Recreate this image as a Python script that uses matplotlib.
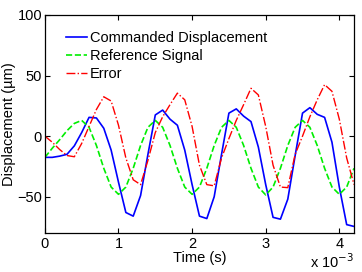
import numpy as np
import matplotlib
matplotlib.use("Agg")
import matplotlib.pyplot as plt
from matplotlib.ticker import FuncFormatter

plt.rcParams.update({
    "font.family": ["Liberation Sans", "DejaVu Sans"],
    "font.size": 10.5,
    "xtick.direction": "in", "ytick.direction": "in",
    "xtick.top": True, "ytick.right": True,
    "xtick.major.size": 3.5, "ytick.major.size": 3.5,
    "axes.linewidth": 0.9,
})

# sample times (s), 0.1 ms grid
time_s = np.linspace(0, 4.2e-3, 43)

commanded = [-17.5, -17.5, -16.5, -15, -8, 3, 15.5, 15, 6.5, -11.5,
             -38, -63, -66, -49, -15, 17.5, 21.5, 14, 9, -11.5,
             -40, -66, -68, -50, -15, 19, 22.5, 16.5, 12, -9,
             -40, -67, -68.5, -52, -16, 19, 23.5, 18, 15.5, -5,
             -42, -73, -74.5]
reference = [-17.5, -10, -3, 4.5, 10.5, 13, 7.3, -7.7, -26.5, -42,
             -48, -42, -26.5, -7.7, 7.3, 13, 7.3, -7.7, -26.5, -42,
             -48, -42, -26.5, -7.7, 7.3, 13, 7.3, -7.7, -26.5, -42,
             -48.5, -42, -26.5, -7.7, 7.3, 13, 7.3, -7.7, -26.5, -42,
             -48, -42, -26.5]
error = [0, -5, -11, -16, -17, -6, 8, 22, 32.5, 29,
         9, -18, -36, -40, -20, 3, 16, 26, 35.5, 30,
         8, -24, -40, -41, -18, -2, 13, 26, 39.5, 34,
         8, -24, -42, -42.5, -15, 0, 16, 30, 42.5, 37,
         14, -18, -40]

fig = plt.figure(figsize=(3.62, 2.72), dpi=100)
ax = fig.add_axes([0.124, 0.143, 0.854, 0.802])

ax.plot(time_s, commanded, "-", color="#0000ff", lw=1.2, label="Commanded Displacement")
ax.plot(time_s, reference, "--", color="#00ee00", lw=1.2, label="Reference Signal")
ax.plot(time_s, error, "-.", color="#ff0000", lw=1.0, label="Error")

ax.set_xlim(0, 4.2e-3); ax.set_ylim(-80, 100)
ax.set_xticks([0, 1e-3, 2e-3, 3e-3, 4e-3])
ax.set_yticks([-50, 0, 50, 100])
ax.xaxis.set_major_formatter(FuncFormatter(lambda v, p: f"{v * 1e3:g}"))
ax.tick_params(pad=3)
ax.tick_params(axis="y", pad=2)
ax.set_xlabel("Time (s)", labelpad=0)
ax.set_ylabel("Displacement (\u00b5m)")
ax.yaxis.set_label_coords(-0.092, 0.5)
ax.text(1.0, -0.132, "x 10$^{-3}$", transform=ax.transAxes, ha="right", va="center")

ax.legend(loc="upper left", bbox_to_anchor=(0.048, 0.955), frameon=False,
          handlelength=1.5, handletextpad=0.15, labelspacing=0.3, borderaxespad=0)

fig.savefig("out.png", dpi=100)
